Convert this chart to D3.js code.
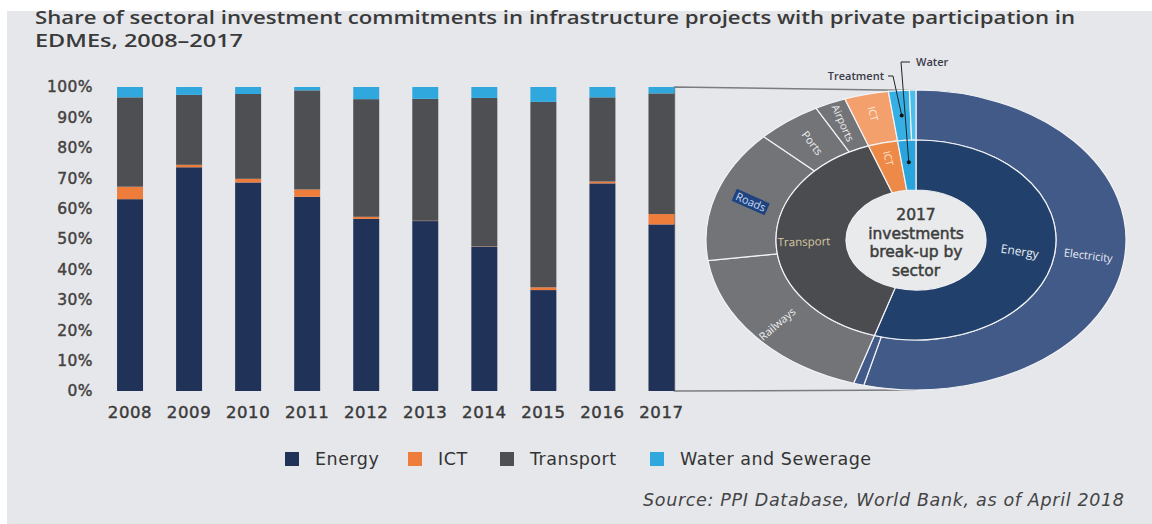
<!DOCTYPE html>
<html>
<head>
<meta charset="utf-8">
<script src="https://cdn.jsdelivr.net/npm/d3@7"></script>
<style>
  body { margin: 0; background: #fff; }
  svg { display: block; }
</style>
</head>
<body>
<div id="chart"></div>
<script>
// data (shares in %)
const years = ["2008", "2009", "2010", "2011", "2012", "2013", "2014", "2015", "2016", "2017"];
const sectors = ["Energy", "ICT", "Transport", "Water and Sewerage"];
const energy = [63.1, 73.6, 68.6, 63.9, 56.6, 55.9, 47.5, 33.2, 68.3, 54.8];
const ict = [4.1, 0.8, 1.2, 2.4, 0.7, 0.1, 0.1, 0.9, 0.6, 3.4];
const transport = [29.4, 23.0, 27.9, 32.6, 38.7, 40.1, 48.8, 61.0, 27.7, 39.7];
const water = [3.4, 2.6, 2.3, 1.1, 4.0, 3.9, 3.6, 4.9, 3.4, 2.1];
const yTicks = [0, 10, 20, 30, 40, 50, 60, 70, 80, 90, 100];

// 2017 break-up, inner ring = sector, outer ring = sub-sector
const innerLabels = ["Energy", "Transport", "ICT", "Water"];
const innerValues = [54.8, 39.7, 3.4, 2.1];
const outerLabels = ["Electricity", "Other energy", "Railways", "Roads", "Ports", "Airports", "ICT", "Treatment", "Water"];
const outerValues = [54.0, 0.8, 18.0, 14.3, 5.0, 2.4, 3.4, 1.6, 0.5];

const W = 1152, H = 524;
const bg = "#e6e7eb";
const barColors = ["#213259", "#ee7d3b", "#4e4f53", "#30a8de"];
const innerColors = ["#21416c", "#4b4c50", "#ee8a48", "#2aa4dc"];
const outerColors = ["#425a88", "#425a88", "#727478", "#727478", "#727478", "#727478", "#f3a06c", "#36b0e4", "#4fbdea"];

const svg = d3.select("#chart").append("svg")
  .attr("width", W).attr("height", H);

svg.append("rect").attr("x", 7).attr("y", 11)
  .attr("width", W - 7).attr("height", H - 11).attr("fill", bg);

// title
const title = svg.append("g").attr("font-family", "'Open Sans', sans-serif")
  .attr("font-weight", 600).attr("font-size", 18).attr("fill", "#3a3a3a");
title.append("text").attr("x", 35).attr("y", 24)
  .attr("textLength", 1040).attr("lengthAdjust", "spacingAndGlyphs")
  .text("Share of sectoral investment commitments in infrastructure projects with private participation in");
title.append("text").attr("x", 35).attr("y", 47)
  .attr("textLength", 208).attr("lengthAdjust", "spacingAndGlyphs")
  .text("EDMEs, 2008\u20132017");

// stacked bars
const x = d3.scaleBand().domain(years).range([100.5, 691])
  .paddingInner(0.56).paddingOuter(0.28);
const y = d3.scaleLinear().domain([0, 100]).range([391, 87]);

const table = years.map((yr, i) => ({
  year: yr, Energy: energy[i], ICT: ict[i], Transport: transport[i], "Water and Sewerage": water[i]
}));
const stack = d3.stack().keys(sectors)(table);

// bracket linking 2017 bar to the pie
const cx = 916, cy = 240, sx = 1.4;
const r0 = 50, r1 = 100, r2 = 150;
const bx = x("2017") + x.bandwidth();
svg.append("path")
  .attr("d", `M${cx},${cy - r2 + 0.5}L${bx},${y(100)}L${bx},${y(0)}L${cx},${cy + r2}`)
  .attr("fill", "none").attr("stroke", "#7b7c80").attr("stroke-width", 1.5);

svg.append("g").selectAll("g").data(stack).join("g")
  .attr("fill", (d, i) => barColors[i])
  .selectAll("rect").data(d => d).join("rect")
  .attr("x", d => x(d.data.year))
  .attr("width", x.bandwidth())
  .attr("y", d => y(d[1]))
  .attr("height", d => y(d[0]) - y(d[1]));

const axisFont = "'DejaVu Sans', sans-serif";
const yAxis = svg.append("g").attr("transform", "translate(100,0)")
  .call(d3.axisLeft(y).tickValues(yTicks).tickSize(0).tickPadding(7).tickFormat(d => d + "%"));
yAxis.select(".domain").remove();
yAxis.selectAll("text").attr("font-family", axisFont)
  .attr("font-size", 15.5).attr("fill", "#45423f")
  .attr("stroke", "#45423f").attr("stroke-width", 0.45).attr("letter-spacing", 0.4);

const xAxis = svg.append("g").attr("transform", "translate(0,391)")
  .call(d3.axisBottom(x).tickSize(0).tickPadding(15));
xAxis.select(".domain").remove();
xAxis.selectAll("text").attr("font-family", axisFont)
  .attr("font-size", 16.5).attr("fill", "#3a3a3a")
  .attr("stroke", "#3a3a3a").attr("stroke-width", 0.45).attr("letter-spacing", 0.6);

// sunburst-like double ring, squeezed into an ellipse
const pie = d3.pie().sort(null).startAngle(0).endAngle(2 * Math.PI);
const innerArcs = pie(innerValues);
const outerArcs = pie(outerValues);
const arcIn = d3.arc().innerRadius(r0).outerRadius(r1);
const arcOut = d3.arc().innerRadius(r1).outerRadius(r2);

const ring = svg.append("g").attr("transform", `translate(${cx},${cy}) scale(${sx},1)`);
ring.selectAll("path.out").data(outerArcs).join("path").attr("class", "out")
  .attr("d", arcOut).attr("fill", (d, i) => outerColors[i])
  .attr("stroke", "#f2f3f5").attr("stroke-width", 1.2).attr("vector-effect", "non-scaling-stroke");
ring.selectAll("path.in").data(innerArcs).join("path").attr("class", "in")
  .attr("d", arcIn).attr("fill", (d, i) => innerColors[i])
  .attr("stroke", "#f2f3f5").attr("stroke-width", 1.2).attr("vector-effect", "non-scaling-stroke");
ring.append("ellipse").attr("rx", r0 - 0.5).attr("ry", r0 - 0.5).attr("fill", "#e9eaec");

function pos(a, r) {
  return [cx + Math.sin(a) * r * sx, cy - Math.cos(a) * r];
}
const deg = a => a * 180 / Math.PI;
const mid = d => (d.startAngle + d.endAngle) / 2;

function ringLabel(d, r, text, size, color) {
  const a = mid(d);
  const [px, py] = pos(a, r);
  const dg = deg(a);
  const rot = dg < 180 ? dg - 90 : dg - 270;
  return svg.append("text").attr("transform", `translate(${px},${py}) rotate(${rot})`)
    .attr("text-anchor", "middle").attr("dy", "0.35em")
    .attr("font-family", "'Open Sans', sans-serif").attr("font-size", size)
    .attr("fill", color).text(text);
}

ringLabel(innerArcs[0], 75, "Energy", 12, "#e8ecf2");
ringLabel(innerArcs[1], 80, "Transport", 11.5, "#d8c9a2");
ringLabel(innerArcs[2], 84, "ICT", 10, "#fbe8da");
ringLabel(outerArcs[0], 124, "Electricity", 11, "#e8ecf2");
ringLabel(outerArcs[2], 130, "Railways", 11, "#eeeeee");
// the "Roads" label sits on a dark highlight in the source
{
  const a = mid(outerArcs[3]);
  const [px, py] = pos(a, 124);
  const g = svg.append("g").attr("transform", `translate(${px},${py}) rotate(${deg(a) - 270 + 6})`);
  g.append("rect").attr("x", -18).attr("y", -6.5).attr("width", 36).attr("height", 13).attr("fill", "#1f4380");
  g.append("text").attr("text-anchor", "middle").attr("dy", "0.35em")
    .attr("font-family", "'Open Sans', sans-serif").attr("font-size", 11)
    .attr("fill", "#c9dcf4").text("Roads");
}
ringLabel(outerArcs[4], 122, "Ports", 11, "#eeeeee");
ringLabel(outerArcs[5], 128, "Airports", 10.5, "#eeeeee");
ringLabel(outerArcs[6], 130, "ICT", 10, "#fdf0e6");

// callouts
function callout(d, r, text, tx, ty, elbowX, endX) {
  const [px, py] = pos(mid(d), r);
  svg.append("path").attr("d", `M${endX},${ty}L${elbowX},${ty}L${px},${py}`)
    .attr("fill", "none").attr("stroke", "#222").attr("stroke-width", 1);
  svg.append("circle").attr("cx", px).attr("cy", py).attr("r", 2).attr("fill", "#111");
  svg.append("text").attr("x", tx).attr("y", ty).attr("dy", "0.35em")
    .attr("text-anchor", tx < elbowX ? "end" : "start")
    .attr("font-family", "'Open Sans', sans-serif").attr("font-weight", 600).attr("font-size", 11)
    .attr("fill", "#3a3a48").text(text);
}
callout(outerArcs[7], 125, "Treatment", 884, 76, 893, 888);
callout(innerArcs[3], 78, "Water", 916, 62, 901, 910);

// centre text
const centre = ["2017", "investments", "break-up by", "sector"];
svg.append("g").selectAll("text").data(centre).join("text")
  .attr("x", cx).attr("y", (d, i) => 220 + i * 18.5)
  .attr("text-anchor", "middle").attr("font-family", axisFont)
  .attr("font-size", 15.5).attr("fill", "#3d3d3d")
  .attr("stroke", "#3d3d3d").attr("stroke-width", 0.5).text(d => d);

// legend
const legendX = [285, 408, 500, 650];
const legend = svg.append("g").selectAll("g").data(sectors).join("g")
  .attr("transform", (d, i) => `translate(${legendX[i]},452)`);
legend.append("rect").attr("width", 14).attr("height", 14).attr("fill", (d, i) => barColors[i]);
legend.append("text").attr("x", 30).attr("y", 7).attr("dy", "0.35em")
  .attr("font-family", axisFont).attr("font-size", 17.5).attr("letter-spacing", 0.5)
  .attr("fill", "#333").text(d => d);

// source
svg.append("text").attr("x", 1124).attr("y", 506).attr("text-anchor", "end")
  .attr("font-family", axisFont).attr("font-style", "italic")
  .attr("font-size", 17.5).attr("fill", "#444")
  .attr("textLength", 481).attr("lengthAdjust", "spacing")
  .text("Source: PPI Database, World Bank, as of April 2018");
</script>
</body>
</html>
